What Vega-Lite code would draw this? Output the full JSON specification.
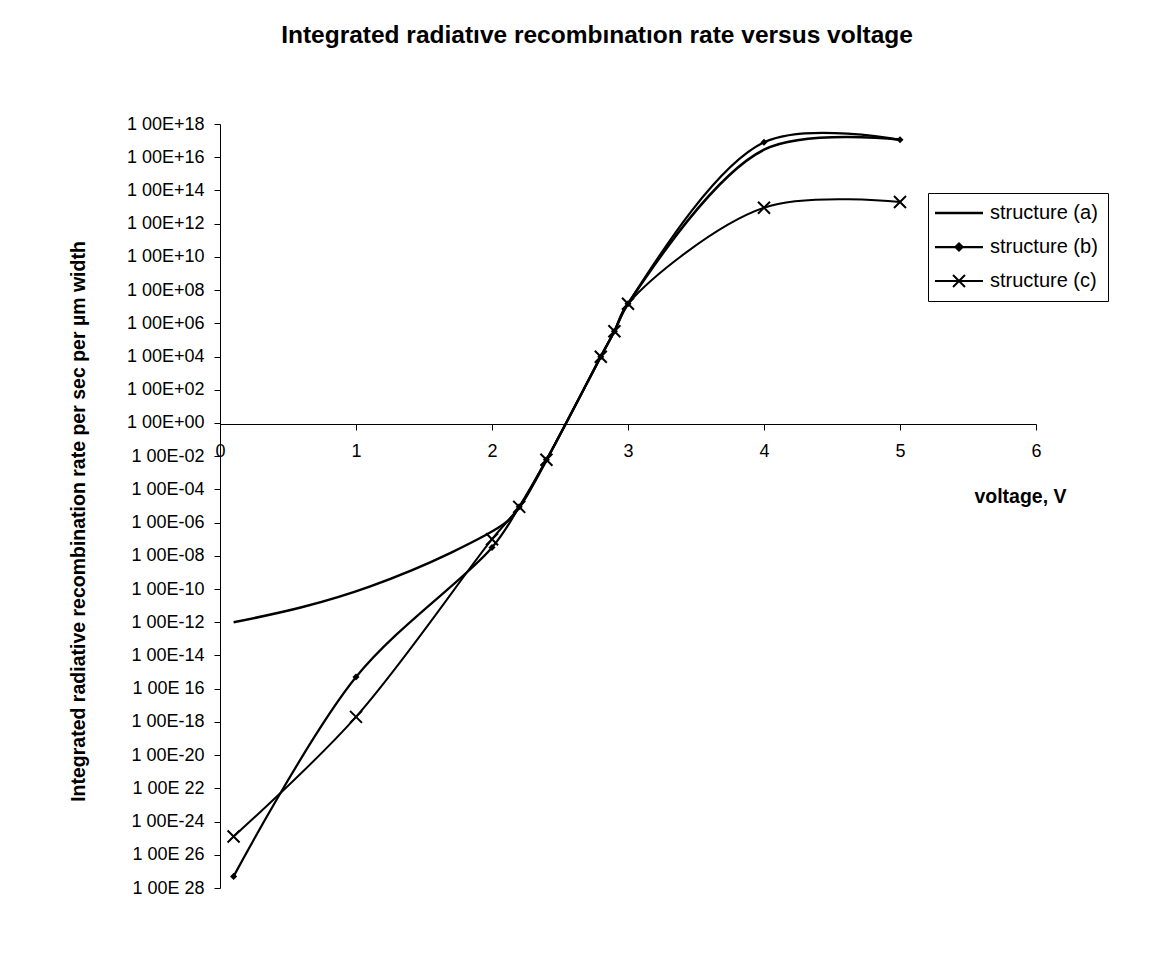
{
  "$schema": "https://vega.github.io/schema/vega-lite/v6.json",
  "width": 816,
  "height": 764,
  "autosize": {"type": "none"},
  "padding": {"left": 220, "top": 124, "right": 131, "bottom": 71},
  "background": "white",
  "config": {"view": {"stroke": null}, "font": "Liberation Sans"},
  "title": {
    "text": "Integrated radiatıve recombınatıon rate versus voltage",
    "font": "Liberation Sans", "fontSize": 24.5, "fontWeight": "bold",
    "anchor": "middle", "frame": "group", "dx": -31, "offset": 67, "color": "black"
  },
  "data": {"values": [
    {"series": "structure (a)", "v": 0.1, "rate": 1e-12},
    {"series": "structure (a)", "v": 0.6, "rate": 7.94e-12},
    {"series": "structure (a)", "v": 1.1, "rate": 1.41e-10},
    {"series": "structure (a)", "v": 1.7, "rate": 1.58e-8},
    {"series": "structure (a)", "v": 2.1, "rate": 1e-6},
    {"series": "structure (a)", "v": 2.2, "rate": 7.94e-6},
    {"series": "structure (a)", "v": 2.4, "rate": 5.62e-3},
    {"series": "structure (a)", "v": 2.8, "rate": 9.77e3},
    {"series": "structure (a)", "v": 2.9, "rate": 3.31e5},
    {"series": "structure (a)", "v": 3.0, "rate": 1.51e7},
    {"series": "structure (a)", "v": 4.0, "rate": 2.82e16},
    {"series": "structure (a)", "v": 5.0, "rate": 1.12e17},
    {"series": "structure (b)", "v": 0.1, "rate": 5.01e-28},
    {"series": "structure (b)", "v": 1.0, "rate": 5.01e-16},
    {"series": "structure (b)", "v": 2.0, "rate": 3.16e-8},
    {"series": "structure (b)", "v": 2.2, "rate": 8.91e-6},
    {"series": "structure (b)", "v": 2.4, "rate": 6.03e-3},
    {"series": "structure (b)", "v": 2.8, "rate": 9.77e3},
    {"series": "structure (b)", "v": 2.9, "rate": 3.31e5},
    {"series": "structure (b)", "v": 3.0, "rate": 1.51e7},
    {"series": "structure (b)", "v": 4.0, "rate": 7.94e16},
    {"series": "structure (b)", "v": 5.0, "rate": 1.12e17},
    {"series": "structure (c)", "v": 0.1, "rate": 1.26e-25},
    {"series": "structure (c)", "v": 1.0, "rate": 2.0e-18},
    {"series": "structure (c)", "v": 2.0, "rate": 1.0e-7},
    {"series": "structure (c)", "v": 2.2, "rate": 8.91e-6},
    {"series": "structure (c)", "v": 2.4, "rate": 6.03e-3},
    {"series": "structure (c)", "v": 2.8, "rate": 9.77e3},
    {"series": "structure (c)", "v": 2.9, "rate": 3.31e5},
    {"series": "structure (c)", "v": 3.0, "rate": 1.51e7},
    {"series": "structure (c)", "v": 4.0, "rate": 9.12e12},
    {"series": "structure (c)", "v": 5.0, "rate": 2.0e13}
  ]},
  "encoding": {
    "x": {
      "field": "v", "type": "quantitative",
      "scale": {"domain": [0, 6], "nice": false, "zero": false},
      "axis": {
        "values": [0, 1, 2, 3, 4, 5, 6], "format": "d",
        "offset": -464, "tickSize": 6, "labelFontSize": 18, "labelPadding": 12,
        "labelColor": "black", "domainColor": "black", "tickColor": "black",
        "grid": false, "labelFlush": false,
        "title": "voltage, V", "titleFontSize": 19.5, "titleFontWeight": "bold",
        "titleColor": "black", "titleX": 800, "titleY": 72,
        "titleBaseline": "middle", "titleAlign": "center"
      }
    },
    "y": {
      "field": "rate", "type": "quantitative",
      "scale": {"type": "log", "domain": [1e-28, 1e18], "nice": false},
      "axis": {
        "values": [1e-28, 1e-26, 1e-24, 1e-22, 1e-20, 1e-18, 1e-16, 1e-14, 1e-12, 1e-10, 1e-8, 1e-6, 1e-4, 1e-2, 1, 1e2, 1e4, 1e6, 1e8, 1e10, 1e12, 1e14, 1e16, 1e18],
        "labelExpr": "'1 00E' + (round(log(datum.value)/LN10) >= 0 ? '+' : (indexof([-16, -22, -26, -28], round(log(datum.value)/LN10)) >= 0 ? ' ' : '-')) + (abs(round(log(datum.value)/LN10)) < 10 ? '0' : '') + abs(round(log(datum.value)/LN10))",
        "tickSize": 6, "labelPadding": 10, "labelFontSize": 18,
        "labelColor": "black", "domainColor": "black", "tickColor": "black",
        "grid": false, "labelFlush": false, "labelOverlap": false,
        "title": "Integrated radiative recombination rate per sec per µm width",
        "titleFontSize": 19.5, "titleFontWeight": "bold", "titleColor": "black",
        "titleX": -142, "titleY": 397, "titleAngle": 270,
        "titleBaseline": "middle", "titleAlign": "center"
      }
    }
  },
  "layer": [
    {
      "mark": {"type": "line", "interpolate": "catmull-rom"},
      "encoding": {
        "color": {
          "field": "series", "type": "nominal",
          "scale": {"range": ["black", "black", "black"]},
          "legend": {
            "orient": "none", "legendX": 708, "legendY": 69, "title": null,
            "strokeColor": "black", "fillColor": "white", "padding": 10,
            "labelFontSize": 20, "labelColor": "black", "labelOffset": 7,
            "symbolType": "stroke", "symbolSize": 16, "symbolStrokeWidth": 2,
            "rowPadding": 14, "cornerRadius": 0,
            "encode": {
              "symbols": {
                "update": {
                  "shape": {"signal": "datum.value === 'structure (b)' ? 'M-12,0H12M-1.75,0L0,-1.75L1.75,0L0,1.75Z' : (datum.value === 'structure (c)' ? 'M-12,0H12M-3,-3L3,3M-3,3L3,-3' : 'M-12,0H12')"},
                  "size": {"value": 16},
                  "x": {"value": 21},
                  "fill": {"value": "black"},
                  "stroke": {"value": "black"},
                  "strokeWidth": {"signal": "datum.value === 'structure (a)' ? 3 : 2"}
                }
              },
              "labels": {
                "update": {"x": {"value": 52}}
              }
            }
          }
        },
        "strokeWidth": {
          "field": "series", "type": "ordinal",
          "scale": {"range": [2.5, 2, 2]}, "legend": null
        }
      }
    },
    {
      "transform": [{"filter": "datum.series === 'structure (b)'"}],
      "mark": {"type": "point", "shape": "diamond", "filled": true, "color": "black", "size": 50, "opacity": 1}
    },
    {
      "transform": [{"filter": "datum.series === 'structure (c)'"}],
      "mark": {"type": "point", "shape": "M-1,-1L1,1M-1,1L1,-1", "filled": false, "color": "black", "size": 144, "strokeWidth": 2, "opacity": 1}
    }
  ]
}
